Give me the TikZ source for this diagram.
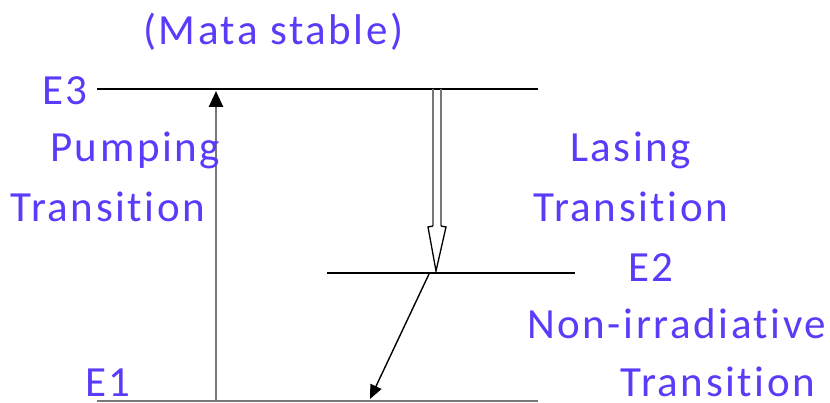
\documentclass[tikz,border=0pt]{standalone}
\usepackage{fontspec}
\setmainfont[Ligatures=NoCommon,LetterSpace=6]{Carlito}
\usetikzlibrary{arrows.meta}
\definecolor{lbl}{RGB}{88,60,250}
\definecolor{shaft}{RGB}{120,120,120}
\begin{document}
\begin{tikzpicture}[x=1pt,y=-1pt,
  lab/.style={inner sep=0pt,anchor=base west,text=lbl,font=\fontsize{43}{48}\selectfont},
  level/.style={line width=1.4pt,black},
  tip/.style={-{Triangle[length=14pt,width=12pt]}}]
\useasboundingbox (0,0) rectangle (830,403);
% levels
\coordinate (e3l) at (97,89);  \coordinate (e3r) at (538,89);
\coordinate (e2l) at (327,273); \coordinate (e2r) at (575,273);
\coordinate (e1l) at (97,401); \coordinate (e1r) at (538,401);
\draw[level] (e3l) -- (e3r);
\draw[level] (e2l) -- (e2r);
\draw[level,shaft,line width=2pt] (e1l) -- (e1r);
% pumping arrow
\coordinate (pb) at (216,401); \coordinate (pt) at (216,91);
\draw[shaft,line width=2.5pt,-{Triangle[length=16pt,width=14pt,fill=black,color=black]}] (pb) -- (pt);
% lasing hollow arrow
\coordinate (la) at (433,89); \coordinate (lb) at (441,89);
\coordinate (lc) at (433,226); \coordinate (ld) at (441,226);
\coordinate (lhl) at (428,227); \coordinate (lhr) at (446,227); \coordinate (ltip) at (436,271);
\draw[shaft,line width=2.3pt] (la) -- (lc);
\draw[shaft,line width=2.3pt] (lb) -- (ld);
\draw[black,line width=1.3pt,line join=miter] (lc) -- (lhl) -- (ltip) -- (lhr) -- (ld);
% non-radiative arrow
\coordinate (na) at (429,274); \coordinate (nb) at (370,399);
\draw[black,line width=1.4pt,tip] (na) -- (nb);
% labels
\node[lab] (ms) at (143,45) {(Mata stable)};
\node[lab] (t3) at (42,105) {E3};
\node[lab] (pu) at (50,162) {Pumping};
\node[lab] (tr1) at (10,222) {Transition};
\node[lab] (la1) at (570,162) {Lasing};
\node[lab] (tr2) at (533,222) {Transition};
\node[lab] (t2) at (628,282) {E2};
\node[lab] (nr) at (527,338) {Non-irradiative};
\node[lab] (tr3) at (620,396) {Transition};
\node[lab] (t1) at (85,396) {E1};
\end{tikzpicture}
\end{document}
